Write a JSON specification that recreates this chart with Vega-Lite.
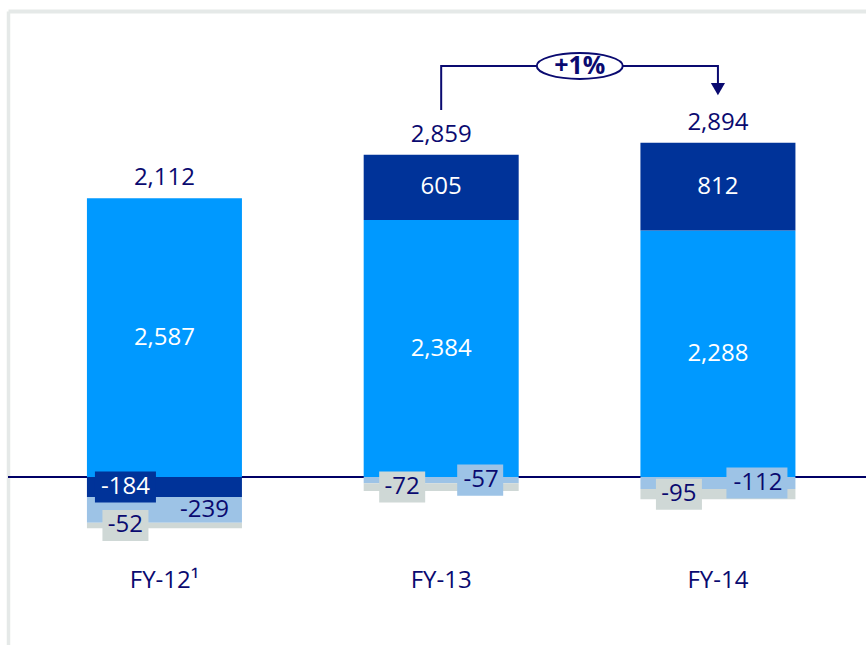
{
  "$schema": "https://vega.github.io/schema/vega-lite/v6.json",
  "width": 858,
  "height": 634,
  "autosize": {"type": "none"},
  "padding": {"left": 8, "top": 11, "right": 0, "bottom": 0},
  "background": "#ffffff",
  "config": {"view": {"stroke": null}, "font": "Open Sans"},
  "datasets": {
    "segments": [
      {"fy": "FY-12", "seg": "s1", "value": 2587},
      {"fy": "FY-12", "seg": "s2", "value": -184},
      {"fy": "FY-12", "seg": "s3", "value": -239},
      {"fy": "FY-12", "seg": "s4", "value": -52},
      {"fy": "FY-13", "seg": "s1", "value": 2384},
      {"fy": "FY-13", "seg": "s2", "value": 605},
      {"fy": "FY-13", "seg": "s3", "value": -57},
      {"fy": "FY-13", "seg": "s4", "value": -72},
      {"fy": "FY-14", "seg": "s1", "value": 2288},
      {"fy": "FY-14", "seg": "s2", "value": 812},
      {"fy": "FY-14", "seg": "s3", "value": -112},
      {"fy": "FY-14", "seg": "s4", "value": -95}
    ],
    "totals": [
      {"fy": "FY-12", "total": 2112},
      {"fy": "FY-13", "total": 2859},
      {"fy": "FY-14", "total": 2894}
    ],
    "bracket": [
      {"fy": "FY-13", "y": 3404, "o": 1},
      {"fy": "FY-13", "y": 3813, "o": 2},
      {"fy": "FY-14", "y": 3813, "o": 3},
      {"fy": "FY-14", "y": 3640, "o": 4}
    ],
    "arrow": [{"fy": "FY-14", "y": 3599}],
    "change": [{"fy": "FY-13", "y": 3813, "label": "+1%"}]
  },
  "layer": [
    {
      "data": {"values": [{"zero": 0}]},
      "mark": {"type": "rule", "color": "#000066", "strokeWidth": 2},
      "encoding": {
        "y": {"field": "zero", "type": "quantitative", "axis": {"title": null}}
      }
    },
    {
      "data": {"name": "segments"},
      "transform": [
        {"stack": "value", "groupby": ["fy"], "sort": [{"field": "seg", "order": "ascending"}], "as": ["v0", "v1"], "offset": "zero"},
        {"calculate": "(datum.v0 + datum.v1) / 2", "as": "mid"},
        {"calculate": "datum.mid + 144", "as": "bt"},
        {"calculate": "datum.mid - 144", "as": "bb"},
        {"calculate": "abs(datum.value)", "as": "absv"},
        {"calculate": "(datum.value < 0 ? '-' : '') + format(abs(datum.value), ',d')", "as": "label"}
      ],
      "layer": [
        {
          "mark": {"type": "bar"},
          "encoding": {
            "x": {
              "field": "fy", "type": "nominal",
              "scale": {"paddingInner": 0.4399, "paddingOuter": 0.2701, "align": 0.528},
              "axis": {
                "title": null, "orient": "bottom", "offset": -65, "domain": false, "ticks": false, "tickSize": 0,
                "labelPadding": 0, "labelBaseline": "middle", "labelFontSize": 24, "labelColor": "#0a0a70",
                "labelFont": "Open Sans", "labelAngle": 0,
                "labelExpr": "datum.value == 'FY-12' ? 'FY-12¹' : datum.value"
              }
            },
            "y": {
              "field": "v0", "type": "quantitative",
              "scale": {"domain": [-1558, 4323], "nice": false, "zero": false},
              "axis": {
                "title": null, "labels": false, "ticks": false, "domain": true, "domainColor": "#e5e9e8",
                "domainWidth": 3.5, "grid": true, "values": [4323], "gridColor": "#e5e9e8", "gridWidth": 4
              }
            },
            "y2": {"field": "v1"},
            "color": {
              "field": "seg", "type": "nominal",
              "scale": {"domain": ["s1", "s2", "s3", "s4"], "range": ["#0099ff", "#003399", "#9dc3e6", "#cfd8d6"]},
              "legend": null
            }
          }
        },
        {
          "transform": [{"filter": "datum.value < 0 && datum.seg != 's3' && datum.absv < 100"}],
          "mark": {"type": "bar", "width": 46, "xOffset": -39},
          "encoding": {
            "x": {"field": "fy", "type": "nominal", "axis": {"title": null}},
            "y": {"field": "bt", "type": "quantitative", "axis": {"title": null}},
            "y2": {"field": "bb"},
            "color": {"field": "seg", "type": "nominal", "legend": null}
          }
        },
        {
          "transform": [{"filter": "datum.value < 0 && datum.seg != 's3' && datum.absv >= 100"}],
          "mark": {"type": "bar", "width": 61, "xOffset": -39},
          "encoding": {
            "x": {"field": "fy", "type": "nominal", "axis": {"title": null}},
            "y": {"field": "bt", "type": "quantitative", "axis": {"title": null}},
            "y2": {"field": "bb"},
            "color": {"field": "seg", "type": "nominal", "legend": null}
          }
        },
        {
          "transform": [{"filter": "datum.seg == 's3' && datum.absv < 100"}],
          "mark": {"type": "bar", "width": 46, "xOffset": 39},
          "encoding": {
            "x": {"field": "fy", "type": "nominal", "axis": {"title": null}},
            "y": {"field": "bt", "type": "quantitative", "axis": {"title": null}},
            "y2": {"field": "bb"},
            "color": {"field": "seg", "type": "nominal", "legend": null}
          }
        },
        {
          "transform": [{"filter": "datum.seg == 's3' && datum.absv >= 100 && datum.absv < 220"}],
          "mark": {"type": "bar", "width": 61, "xOffset": 39},
          "encoding": {
            "x": {"field": "fy", "type": "nominal", "axis": {"title": null}},
            "y": {"field": "bt", "type": "quantitative", "axis": {"title": null}},
            "y2": {"field": "bb"},
            "color": {"field": "seg", "type": "nominal", "legend": null}
          }
        },
        {
          "transform": [{"filter": "datum.value > 0"}],
          "mark": {"type": "text", "fontSize": 24, "color": "#ffffff", "baseline": "middle", "font": "Open Sans"},
          "encoding": {
            "x": {"field": "fy", "type": "nominal", "axis": {"title": null}},
            "y": {"field": "mid", "type": "quantitative", "axis": {"title": null}},
            "text": {"field": "label"}
          }
        },
        {
          "transform": [{"filter": "datum.value < 0 && datum.seg != 's3'"}],
          "mark": {"type": "text", "fontSize": 24, "baseline": "middle", "xOffset": -39, "font": "Open Sans"},
          "encoding": {
            "x": {"field": "fy", "type": "nominal", "axis": {"title": null}},
            "y": {"field": "mid", "type": "quantitative", "axis": {"title": null}},
            "text": {"field": "label"},
            "color": {"condition": {"test": "datum.seg == 's2'", "value": "#ffffff"}, "value": "#0a0a70"}
          }
        },
        {
          "transform": [{"filter": "datum.seg == 's3'"}],
          "mark": {"type": "text", "fontSize": 24, "baseline": "middle", "xOffset": 40, "color": "#0a0a70", "font": "Open Sans"},
          "encoding": {
            "x": {"field": "fy", "type": "nominal", "axis": {"title": null}},
            "y": {"field": "mid", "type": "quantitative", "axis": {"title": null}},
            "text": {"field": "label"}
          }
        },
        {
          "transform": [
            {"filter": "datum.value > 0"},
            {"aggregate": [{"op": "sum", "field": "value", "as": "pos"}], "groupby": ["fy"]},
            {"lookup": "fy", "from": {"data": {"name": "totals"}, "key": "fy", "fields": ["total"]}},
            {"calculate": "format(datum.total, ',d')", "as": "tlabel"}
          ],
          "mark": {"type": "text", "fontSize": 24, "baseline": "middle", "dy": -20, "color": "#0a0a70", "font": "Open Sans"},
          "encoding": {
            "x": {"field": "fy", "type": "nominal", "axis": {"title": null}},
            "y": {"field": "pos", "type": "quantitative", "axis": {"title": null}},
            "text": {"field": "tlabel"}
          }
        }
      ]
    },
    {
      "data": {"name": "bracket"},
      "mark": {"type": "line", "color": "#0a0a70", "strokeWidth": 2, "strokeJoin": "miter", "strokeCap": "butt"},
      "encoding": {
        "x": {"field": "fy", "type": "nominal", "axis": {"title": null}},
        "y": {"field": "y", "type": "quantitative", "axis": {"title": null}},
        "order": {"field": "o"}
      }
    },
    {
      "data": {"name": "arrow"},
      "mark": {"type": "point", "shape": "triangle-down", "size": 200, "filled": true, "color": "#0a0a70", "opacity": 1},
      "encoding": {
        "x": {"field": "fy", "type": "nominal", "axis": {"title": null}},
        "y": {"field": "y", "type": "quantitative", "axis": {"title": null}}
      }
    },
    {
      "data": {"name": "change"},
      "mark": {
        "type": "point",
        "shape": "M -1 0 A 1 0.3 0 1 1 1 0 A 1 0.3 0 1 1 -1 0 Z",
        "size": 7396, "fill": "#ffffff", "stroke": "#0a0a70", "strokeWidth": 2, "opacity": 1, "fillOpacity": 1
      },
      "encoding": {
        "x": {"field": "fy", "type": "nominal", "bandPosition": 1.394, "axis": {"title": null}},
        "y": {"field": "y", "type": "quantitative", "axis": {"title": null}}
      }
    },
    {
      "data": {"name": "change"},
      "mark": {"type": "text", "fontSize": 25, "fontWeight": "bold", "baseline": "middle", "color": "#0a0a70", "font": "Open Sans"},
      "encoding": {
        "x": {"field": "fy", "type": "nominal", "bandPosition": 1.394, "axis": {"title": null}},
        "y": {"field": "y", "type": "quantitative", "axis": {"title": null}},
        "text": {"field": "label"}
      }
    }
  ]
}
